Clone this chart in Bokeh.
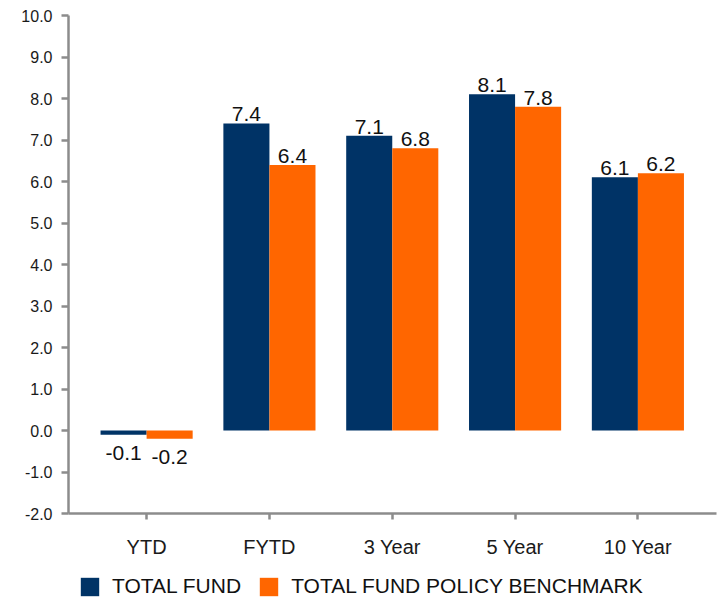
import numpy as np
from bokeh.plotting import figure
from bokeh.layouts import column
from bokeh.models import ColumnDataSource, Range1d, FixedTicker, Legend, LegendItem
from bokeh.core.properties import value
from bokeh.embed import file_html
from bokeh.resources import INLINE

# Returns by period (percent)
categories = ["YTD", "FYTD", "3 Year", "5 Year", "10 Year"]
total_fund = [-0.1, 7.4, 7.1, 8.1, 6.1]
policy_benchmark = [-0.2, 6.4, 6.8, 7.8, 6.2]
y_ticks = [-2, -1, 0, 1, 2, 3, 4, 5, 6, 7, 8, 9, 10]
series_names = ["TOTAL FUND", "TOTAL FUND POLICY BENCHMARK"]

NAVY = "#003366"
ORANGE = "#FF6600"
AXIS_GRAY = "#8C8C8C"
FONT = "Liberation Sans"
BAR_W = 0.375
colors = [NAVY, ORANGE]

centers = np.arange(1, len(categories) + 1, dtype=float)

# ---- main bar chart ----
p = figure(width=717, height=570, output_backend="svg", toolbar_location=None,
           x_range=Range1d(0.364, 5.64), y_range=Range1d(-2, 10),
           min_border_left=68, min_border_right=1, min_border_top=15,
           min_border_bottom=57)
p.outline_line_color = None
p.xgrid.visible = False
p.ygrid.visible = False

for vals, color, shift in ((total_fund, NAVY, -BAR_W / 2), (policy_benchmark, ORANGE, BAR_W / 2)):
    xs = centers + shift
    src = ColumnDataSource(dict(x=xs, top=vals, bottom=[0] * len(vals)))
    p.vbar(x="x", top="top", bottom="bottom", width=BAR_W, source=src,
           fill_color=color, line_color=None)

    # value labels: above positive bars, below negative ones
    pos = [(x, v) for x, v in zip(xs, vals) if v >= 0]
    neg = [(x, v) for x, v in zip(xs, vals) if v < 0]
    if pos:
        p.text(x=[a for a, _ in pos], y=[b for _, b in pos],
               text=[f"{b:.1f}" for _, b in pos], text_align="center",
               text_baseline="bottom", y_offset=-2, text_font=value(FONT),
               text_font_size="21px", text_color="#111111")
    if neg:
        p.text(x=[a for a, _ in neg], y=[b for _, b in neg],
               text=[f"{b:.1f}" for _, b in neg], text_align="center",
               text_baseline="top", y_offset=11, text_font=value(FONT),
               text_font_size="21px", text_color="#111111")

# y axis
p.yaxis.ticker = FixedTicker(ticks=y_ticks)
p.yaxis.major_label_overrides = {t: f"{t:.1f}" for t in y_ticks}
p.yaxis.minor_tick_line_color = None
p.yaxis.major_tick_in = 0
p.yaxis.major_tick_out = 7
p.yaxis.major_label_standoff = 9

# x axis
p.xaxis.ticker = FixedTicker(ticks=list(centers))
p.xaxis.major_label_overrides = {float(c): name for c, name in zip(centers, categories)}
p.xaxis.minor_tick_line_color = None
p.xaxis.major_tick_in = 0
p.xaxis.major_tick_out = 6
p.xaxis.major_label_standoff = 16

for ax in (p.xaxis, p.yaxis):
    ax.axis_line_color = AXIS_GRAY
    ax.axis_line_width = 2.5
    ax.major_tick_line_color = AXIS_GRAY
    ax.major_tick_line_width = 2.5
    ax.major_label_text_font = FONT
    ax.major_label_text_color = "#1A1A1A"
p.yaxis.major_label_text_font_size = "16px"
p.xaxis.major_label_text_font_size = "20px"

# ---- legend strip underneath (its frame lines up with the chart's frame) ----
leg = figure(width=717, height=28, output_backend="svg", toolbar_location=None,
             x_range=Range1d(0, 1), y_range=Range1d(0, 1),
             x_axis_type=None, y_axis_type=None, min_border=0)
leg.outline_line_color = None
leg.xgrid.visible = False
leg.ygrid.visible = False

items = []
for name, color in zip(series_names, colors):
    # zero-size bar: only serves as the legend swatch's style
    swatch = leg.vbar(x=[0.5], top=[0], bottom=[0], width=0,
                      fill_color=color, line_color=None)
    items.append(LegendItem(label=name, renderers=[swatch]))

legend = Legend(items=items, location=(10, 0), orientation="horizontal",
                glyph_width=23, glyph_height=23, label_standoff=11, spacing=16,
                padding=0, margin=0, border_line_color=None,
                background_fill_alpha=0, label_text_font=FONT,
                label_text_font_size="21px", label_text_color="#111111",
                label_height=23)
leg.add_layout(legend, "center")

layout = column(p, leg, spacing=0)
open("out.html", "w").write(file_html(layout, INLINE))
